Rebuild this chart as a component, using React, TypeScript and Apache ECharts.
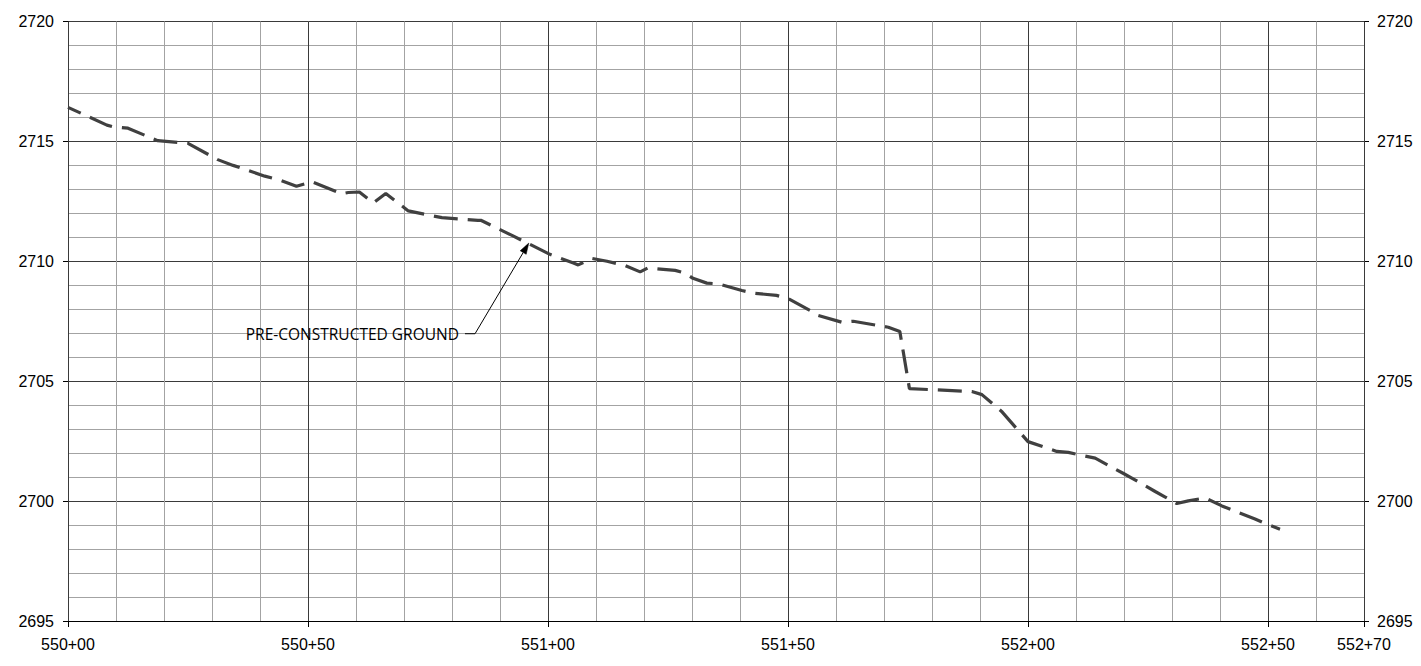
import React, { useEffect, useRef } from "react";
import * as echarts from "echarts";

// Station (ft, e.g. 55000 = 550+00) and ground elevation readings
const stations = [
  55000, 55008.1, 55009.4, 55012.5, 55018.7, 55023.7, 55025.0, 55031.2, 55034.4, 55041.0,
  55044.2, 55047.6, 55050.8, 55057.0, 55058.4, 55060.7, 55063.6, 55066.2, 55070.9, 55077.9,
  55085.4, 55086.0, 55092.5, 55100.4, 55105.3, 55106.3, 55109.2, 55112.3, 55116.0, 55119.2,
  55120.8, 55126.5, 55128.5, 55130.2, 55133.1, 55135.5, 55140.4, 55142.8, 55147.6, 55150.1,
  55154.6, 55156.3, 55161.2, 55163.6, 55168.8, 55170.9, 55173.3, 55175.3, 55180.6, 55188.3,
  55190.4, 55194.5, 55200.0, 55206.0, 55208.4, 55214.0, 55219.9, 55222.0, 55226.5, 55228.5,
  55231.0, 55233.4, 55236.9, 55240.4, 55242.6, 55247.3, 55249.7, 55252.5,
];
const elevations = [
  2716.42, 2715.68, 2715.61, 2715.55, 2715.03, 2714.94, 2714.92, 2714.24, 2714.0, 2713.55,
  2713.38, 2713.13, 2713.32, 2712.82, 2712.87, 2712.89, 2712.43, 2712.83, 2712.1, 2711.82,
  2711.71, 2711.71, 2711.08, 2710.29, 2709.93, 2709.85, 2710.12, 2710.0, 2709.83, 2709.56,
  2709.72, 2709.62, 2709.51, 2709.29, 2709.09, 2709.06, 2708.78, 2708.67, 2708.58, 2708.44,
  2707.95, 2707.74, 2707.46, 2707.5, 2707.32, 2707.25, 2707.07, 2704.69, 2704.64, 2704.57,
  2704.44, 2703.74, 2702.48, 2702.07, 2702.03, 2701.79, 2701.15, 2700.92, 2700.4, 2700.18,
  2699.9, 2700.01, 2700.13, 2699.8, 2699.62, 2699.25, 2699.04, 2698.83,
];

const xMin = 55000;
const xMax = 55270;
const yMin = 2695;
const yMax = 2720;

const annotationText = "PRE-CONSTRUCTED GROUND";
const annotationTip = [55096.0, 2710.76];
const annotationElbow = [55084.8, 2706.98];
const annotationLeaderStart = [55082.7, 2706.98];

function fmtStation(v: number): string {
  const h = Math.floor(v / 100 + 1e-9);
  const r = Math.round(v - h * 100);
  return `${h}+${String(r).padStart(2, "0")}`;
}

const AXIS_FONT = "Liberation Sans";
const MAJOR = "#3a3a3a";
const MINOR = "#a3a3a3";

export default function App() {
  const ref = useRef<HTMLDivElement>(null);

  useEffect(() => {
    if (!ref.current) return;
    const chart = echarts.init(ref.current, undefined, { renderer: "svg" });
    const labelStyle = { color: "#000", fontSize: 16, fontFamily: AXIS_FONT };

    chart.setOption({
      animation: false,
      backgroundColor: "#fff",
      grid: {
        left: 68,
        top: 21.5,
        right: 57,
        bottom: 45,
        containLabel: false,
        outerBoundsMode: "none",
      },
      xAxis: [
        {
          type: "value",
          min: xMin,
          max: xMax,
          interval: 10,
          position: "bottom",
          axisLine: { show: true, lineStyle: { color: "#000", width: 1 } },
          axisTick: { show: false },
          axisLabel: { show: false },
          splitLine: { show: true, lineStyle: { color: MINOR, width: 1 } },
        },
        {
          type: "value",
          min: xMin,
          max: xMax,
          interval: 50,
          position: "bottom",
          z: 1,
          axisLine: { show: false },
          axisTick: { show: true, inside: false, length: 6, lineStyle: { color: "#000", width: 1 } },
          axisLabel: {
            show: true,
            margin: 15,
            ...labelStyle,
            formatter: (v: number) => fmtStation(v),
            showMinLabel: true,
            showMaxLabel: true,
          },
          splitLine: { show: true, lineStyle: { color: MAJOR, width: 1 } },
        },
      ],
      yAxis: [
        {
          type: "value",
          min: yMin,
          max: yMax,
          interval: 5,
          position: "left",
          axisLine: { show: true, lineStyle: { color: "#000", width: 1 } },
          axisTick: { show: true, inside: false, length: 5, lineStyle: { color: "#000", width: 1 } },
          axisLabel: {
            show: true,
            margin: 14,
            ...labelStyle,
            formatter: (v: number) => String(v),
            showMinLabel: true,
            showMaxLabel: true,
          },
          splitLine: { show: true, lineStyle: { color: MAJOR, width: 1 } },
          minorTick: { show: false, splitNumber: 5 },
          minorSplitLine: { show: true, lineStyle: { color: MINOR, width: 1 } },
        },
        {
          type: "value",
          min: yMin,
          max: yMax,
          interval: 5,
          position: "right",
          axisLine: { show: true, lineStyle: { color: "#000", width: 1 } },
          axisTick: { show: true, inside: false, length: 5, lineStyle: { color: "#000", width: 1 } },
          axisLabel: {
            show: true,
            margin: 13,
            ...labelStyle,
            formatter: (v: number) => String(v),
            showMinLabel: true,
            showMaxLabel: true,
          },
          splitLine: { show: false },
        },
      ],
      series: [
        {
          type: "line",
          xAxisIndex: 0,
          yAxisIndex: 0,
          data: stations.map((s, i) => [s, elevations[i]]),
          symbol: "none",
          silent: true,
          z: 5,
          lineStyle: { color: "#404040", width: 3.2, type: [24, 10], dashOffset: 10 },
        },
      ],
    });

    const p = (d: number[]) =>
      chart.convertToPixel({ xAxisIndex: 0, yAxisIndex: 0 }, d) as number[];
    const tip = p(annotationTip);
    const elbow = p(annotationElbow);
    const ls = p(annotationLeaderStart);
    const dx = tip[0] - elbow[0];
    const dy = tip[1] - elbow[1];
    const len = Math.hypot(dx, dy);
    const ux = dx / len;
    const uy = dy / len;
    const headLen = 11;
    const headW = 3.5;
    const base = [tip[0] - ux * headLen, tip[1] - uy * headLen];
    const nx = -uy;
    const ny = ux;

    chart.setOption({
      graphic: [
        {
          type: "polyline",
          z: 10,
          shape: { points: [ls, elbow, base] },
          style: { stroke: "#000", lineWidth: 1, fill: "none" },
          silent: true,
        },
        {
          type: "polygon",
          z: 10,
          shape: {
            points: [
              tip,
              [base[0] + nx * headW, base[1] + ny * headW],
              [base[0] - nx * headW, base[1] - ny * headW],
            ],
          },
          style: { fill: "#000", stroke: "#000", lineWidth: 0.5 },
          silent: true,
        },
        {
          type: "text",
          z: 10,
          x: ls[0] - 6,
          y: ls[1],
          style: {
            text: annotationText,
            fill: "#000",
            fontSize: 15.5,
            fontFamily: "Open Sans",
            align: "right",
            verticalAlign: "middle",
          },
          silent: true,
        },
      ],
    });

    return () => chart.dispose();
  }, []);

  return (
    <div
      ref={ref}
      style={{ position: "fixed", left: 0, top: 0, width: 1421, height: 666, background: "#fff" }}
    />
  );
}
